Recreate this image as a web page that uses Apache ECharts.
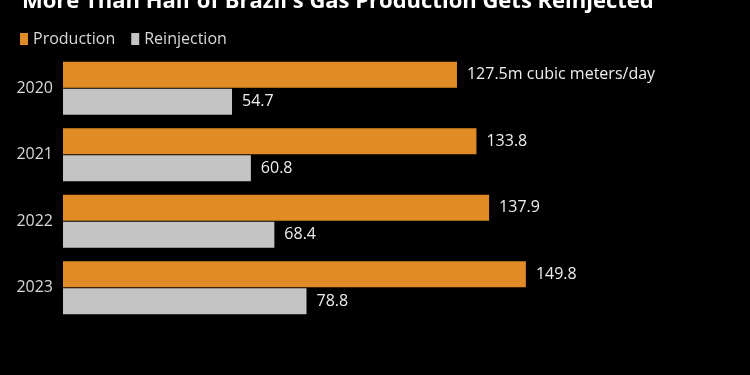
<!DOCTYPE html>
<html>
<head>
<meta charset="utf-8">
<script src="https://cdn.jsdelivr.net/npm/echarts@6/dist/echarts.min.js"></script>
<style>
  html, body { margin: 0; padding: 0; background: #000; }
  #dataView { width: 750px; height: 375px; }
</style>
</head>
<body>
<div id="dataView"></div>
<script>
// 数据
var years = ['2020', '2021', '2022', '2023'];
var production = [127.5, 133.8, 137.9, 149.8];
var reinjection = [54.7, 60.8, 68.4, 78.8];
var unitText = 'm cubic meters/day';

var font = 'Open Sans';

var dataViewcharts = echarts.init(document.getElementById('dataView'));
var dataViewoption = {
    backgroundColor: '#000000',
    animation: false,
    title: {
        text: "More Than Half of Brazil's Gas Production Gets Reinjected",
        left: 17,
        top: -14,
        textStyle: {
            color: '#ffffff',
            fontSize: 22,
            fontWeight: 'bold',
            fontFamily: font
        }
    },
    legend: {
        left: 15,
        top: 26,
        itemWidth: 8,
        itemHeight: 12,
        itemGap: 16,
        icon: 'rect',
        textStyle: {
            color: '#d9d9d9',
            fontSize: 16,
            fontFamily: font
        },
        data: ['Production', 'Reinjection']
    },
    grid: {
        left: 63,
        right: 69,
        top: 55,
        bottom: 54
    },
    xAxis: {
        type: 'value',
        min: 0,
        max: 200,
        show: false
    },
    yAxis: {
        type: 'category',
        data: years,
        inverse: true,
        axisLine: { show: false },
        axisTick: { show: false },
        axisLabel: {
            margin: 10,
            color: '#d9d9d9',
            fontSize: 16,
            fontFamily: font
        }
    },
    series: [
        {
            name: 'Production',
            type: 'bar',
            data: production,
            barWidth: 26,
            barGap: '4%',
            itemStyle: { color: '#e08b25' },
            label: {
                show: true,
                position: 'right',
                distance: 10,
                color: '#eeeeee',
                fontSize: 16,
                fontFamily: font,
                formatter: function (p) {
                    return p.dataIndex === 0 ? p.value + unitText : p.value;
                }
            }
        },
        {
            name: 'Reinjection',
            type: 'bar',
            data: reinjection,
            barWidth: 26,
            itemStyle: { color: '#c4c4c4' },
            label: {
                show: true,
                position: 'right',
                distance: 10,
                color: '#eeeeee',
                fontSize: 16,
                fontFamily: font
            }
        }
    ]
};
dataViewcharts.setOption(dataViewoption);
</script>
</body>
</html>
